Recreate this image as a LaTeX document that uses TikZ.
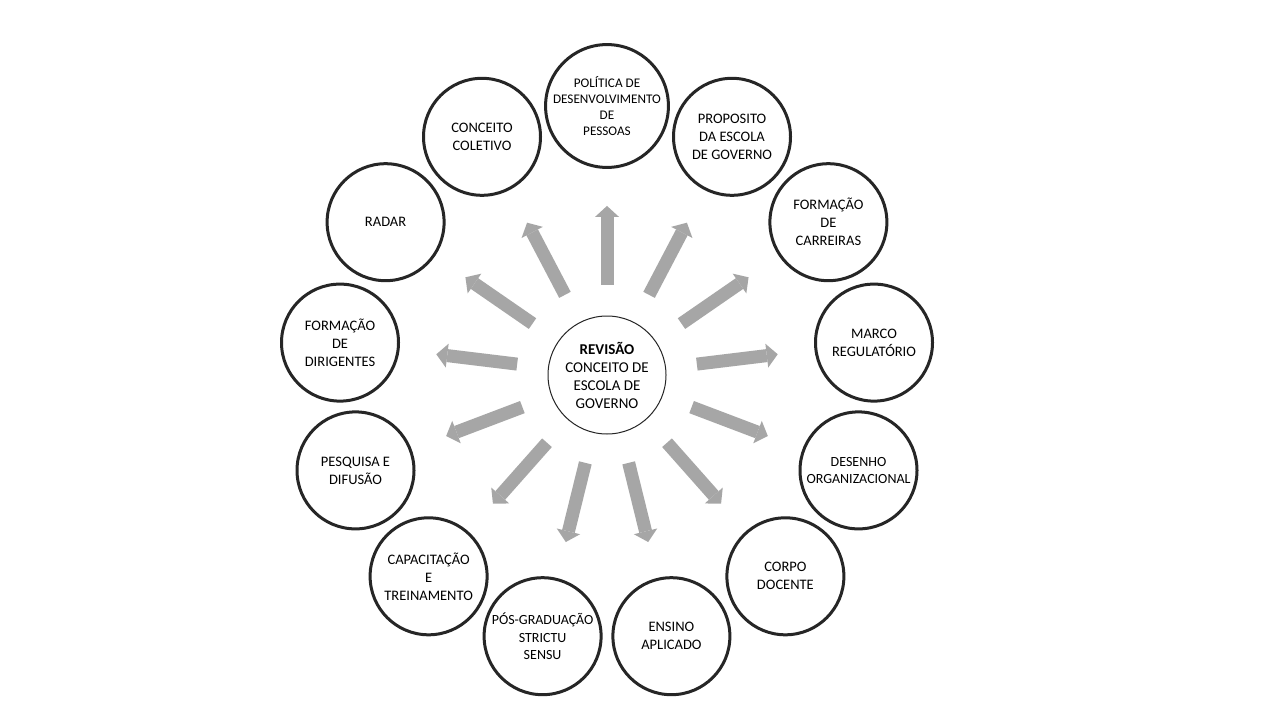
\documentclass[tikz,border=0pt]{standalone}
\usepackage{fontspec}
\setmainfont{Carlito}
\usetikzlibrary{arrows.meta}

\begin{document}
\begin{tikzpicture}[x=1pt,y=-1pt,line cap=rect]
	\definecolor{custcol_26_26_26}{RGB}{38, 38, 38}
	\definecolor{custcol_a6_a6_a6}{RGB}{166, 166, 166}
	\definecolor{custcol_ff_ff_ff}{RGB}{255, 255, 255}
	\tikzset{
		ball/.style={circle, draw=custcol_26_26_26, line width=3.0pt, minimum size=117pt, inner sep=0, align=center, font=\fontsize{14.5pt}{18pt}\selectfont},
		hub/.style={circle, draw=custcol_26_26_26, line width=1.0pt, minimum size=118pt, inner sep=0, align=center, font=\fontsize{15pt}{18pt}\selectfont},
		spoke/.style={line width=13.0pt, custcol_a6_a6_a6, line cap=butt, -{Triangle[width=24pt,length=11pt,line width=0pt]}, shorten <=31pt, shorten >=37pt}
	}
	\fill [custcol_ff_ff_ff] (0,0) rectangle (1280,720);
	\useasboundingbox (0,0) rectangle (1280,720);
	% centre
	\node[hub] (revisao) at (607.0,375.0) {\textbf{REVISÃO}\\CONCEITO DE\\ESCOLA DE\\GOVERNO};
	% ring, clockwise from the top
	\node[ball, font=\fontsize{13.2pt}{16pt}\selectfont] (politica) at (607.0,106.0) {POLÍTICA DE\\DESENVOLVIMENTO\\DE\\PESSOAS};
	\node[ball] (proposito) at (732.0,136.8) {PROPOSITO\\DA ESCOLA\\DE GOVERNO};
	\node[ball] (carreiras) at (828.4,222.2) {FORMAÇÃO\\DE\\CARREIRAS};
	\node[ball] (marco) at (874.0,342.6) {MARCO\\REGULATÓRIO};
	\node[ball, font=\fontsize{14pt}{17.5pt}\selectfont] (desenho) at (858.5,470.4) {DESENHO\\ORGANIZACIONAL};
	\node[ball] (corpo) at (785.4,576.3) {CORPO\\DOCENTE};
	\node[ball] (ensino) at (671.4,636.2) {ENSINO\\APLICADO};
	\node[ball, font=\fontsize{14pt}{17.5pt}\selectfont] (posgrad) at (542.6,636.2) {PÓS-GRADUAÇÃO\\STRICTU\\SENSU};
	\node[ball] (capacitacao) at (428.6,576.3) {CAPACITAÇÃO\\E\\TREINAMENTO};
	\node[ball] (pesquisa) at (355.5,470.4) {PESQUISA E\\DIFUSÃO};
	\node[ball] (dirigentes) at (340.0,342.6) {FORMAÇÃO\\DE\\DIRIGENTES};
	\node[ball] (radar) at (385.6,222.2) {RADAR};
	\node[ball] (coletivo) at (482.0,136.8) {CONCEITO\\COLETIVO};
	% spokes
	\draw [spoke] (revisao) -- (politica);
	\draw [spoke] (revisao) -- (proposito);
	\draw [spoke] (revisao) -- (carreiras);
	\draw [spoke] (revisao) -- (marco);
	\draw [spoke] (revisao) -- (desenho);
	\draw [spoke] (revisao) -- (corpo);
	\draw [spoke] (revisao) -- (ensino);
	\draw [spoke] (revisao) -- (posgrad);
	\draw [spoke] (revisao) -- (capacitacao);
	\draw [spoke] (revisao) -- (pesquisa);
	\draw [spoke] (revisao) -- (dirigentes);
	\draw [spoke] (revisao) -- (radar);
	\draw [spoke] (revisao) -- (coletivo);
\end{tikzpicture}
\end{document}
